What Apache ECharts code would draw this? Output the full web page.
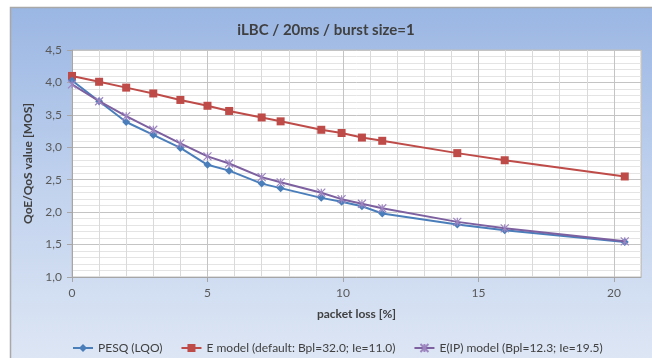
<!DOCTYPE html>
<html>
<head>
<meta charset="utf-8">
<script src="https://cdn.jsdelivr.net/npm/echarts@6/dist/echarts.min.js"></script>
<style>html,body{margin:0;padding:0;background:#fff}#c{width:652px;height:358px}</style>
</head>
<body>
<div id="c"></div>
<script>
var lossX = [0, 1, 2, 3, 4, 5, 5.8, 7, 7.7, 9.2, 9.95, 10.7, 11.45, 14.22, 15.97, 20.4];
var pesq = [4.03, 3.71, 3.39, 3.19, 2.99, 2.73, 2.64, 2.44, 2.37, 2.22, 2.16, 2.09, 1.98, 1.81, 1.72, 1.54];
var eModel = [4.10, 4.01, 3.92, 3.83, 3.73, 3.64, 3.56, 3.46, 3.40, 3.27, 3.22, 3.15, 3.10, 2.91, 2.80, 2.55];
var eipModel = [3.97, 3.71, 3.48, 3.27, 3.06, 2.86, 2.75, 2.54, 2.46, 2.30, 2.20, 2.13, 2.06, 1.85, 1.75, 1.55];
var seriesNames = ['PESQ (LQO)', 'E model (default: Bpl=32.0; Ie=11.0)', 'E(IP) model (Bpl=12.3; Ie=19.5)'];
var yTicks = [1.0, 1.5, 2.0, 2.5, 3.0, 3.5, 4.0, 4.5];

function pairs(ys) { return lossX.map(function (x, i) { return [x, ys[i]]; }); }
var FONT = 'Lato, "Open Sans", sans-serif';
var chart = echarts.init(document.getElementById('c'), null, {renderer: 'canvas'});
chart.setOption({
  animation: false,
  textStyle: {fontFamily: FONT},
  graphic: [{
    type: 'rect', z: -10, silent: true,
    shape: {x: 10.5, y: 7.5, width: 660, height: 370},
    style: {
      fill: new echarts.graphic.LinearGradient(0, 0, 0, 1, [
        {offset: 0, color: '#9ab6e3'},
        {offset: 0.5, color: '#c2d3ee'},
        {offset: 1, color: '#e0e8f5'}
      ]),
      stroke: '#a8a8a8', lineWidth: 1.5
    }
  }],
  title: {
    text: 'iLBC / 20ms / burst size=1', left: 'center', top: 18,
    textStyle: {fontFamily: FONT, fontSize: 15, fontWeight: 'bold', color: '#404040'}
  },
  legend: {
    left: 67, top: 337, itemWidth: 20, itemHeight: 10, itemGap: 18,
    textStyle: {fontFamily: FONT, fontSize: 12, color: '#404040'},
    data: seriesNames
  },
  grid: {
    left: 72, top: 50, right: 11, bottom: 81,
    show: true, backgroundColor: '#ffffff', borderColor: '#bfbfbf', borderWidth: 1
  },
  xAxis: [{
    type: 'value', min: 0, max: 21, interval: 1,
    axisLine: {show: false}, axisTick: {show: false}, axisLabel: {show: false},
    splitLine: {show: true, lineStyle: {color: '#dadada', width: 1}}
  }, {
    type: 'value', min: 0, max: 21, interval: 5, position: 'bottom',
    name: 'packet loss [%]', nameLocation: 'middle', nameGap: 31,
    nameTextStyle: {fontFamily: FONT, fontSize: 12, fontWeight: 'bold', color: '#404040'},
    axisLine: {show: true, lineStyle: {color: '#a6a6a6'}},
    axisTick: {show: true, length: 5, lineStyle: {color: '#a6a6a6'}},
    axisLabel: {showMaxLabel: false, margin: 10, fontSize: 12, color: '#595959',
      formatter: function (v) { return v % 5 === 0 ? String(v) : ''; }},
    splitLine: {show: true, lineStyle: {color: '#c4c4c4', width: 1}}
  }],
  yAxis: {
    type: 'value', min: 1, max: 4.5, interval: 0.5,
    name: 'QoE/QoS value [MOS]', nameLocation: 'middle', nameGap: 34,
    nameTextStyle: {fontFamily: FONT, fontSize: 12, fontWeight: 'bold', color: '#404040'},
    axisLine: {show: true, lineStyle: {color: '#a6a6a6'}},
    axisTick: {show: true, length: 5, lineStyle: {color: '#a6a6a6'}},
    axisLabel: {margin: 10, fontSize: 12, color: '#595959',
      formatter: function (v) { return v.toFixed(1).replace('.', ','); }},
    minorTick: {show: false, splitNumber: 5},
    minorSplitLine: {show: true, lineStyle: {color: '#e4e4e4', width: 1}},
    splitLine: {show: true, lineStyle: {color: '#c4c4c4', width: 1}}
  },
  series: [{
    name: seriesNames[0], type: 'line', xAxisIndex: 0, data: pairs(pesq),
    symbol: 'diamond', symbolSize: 8, z: 3,
    lineStyle: {color: '#4a7ebb', width: 2}, itemStyle: {color: '#4a7ebb'}
  }, {
    name: seriesNames[1], type: 'line', xAxisIndex: 0, data: pairs(eModel),
    symbol: 'rect', symbolSize: 8, z: 2,
    lineStyle: {color: '#be4b48', width: 2}, itemStyle: {color: '#be4b48'}
  }, {
    name: seriesNames[2], type: 'line', xAxisIndex: 0, data: pairs(eipModel),
    symbol: 'path://M0,0L10,10M10,0L0,10M5,0L5,10', symbolSize: 8, z: 4,
    lineStyle: {color: '#7d60a0', width: 2},
    itemStyle: {color: '#9d85c0', borderColor: '#9d85c0', borderWidth: 1.2}
  }]
});
</script>
</body>
</html>
